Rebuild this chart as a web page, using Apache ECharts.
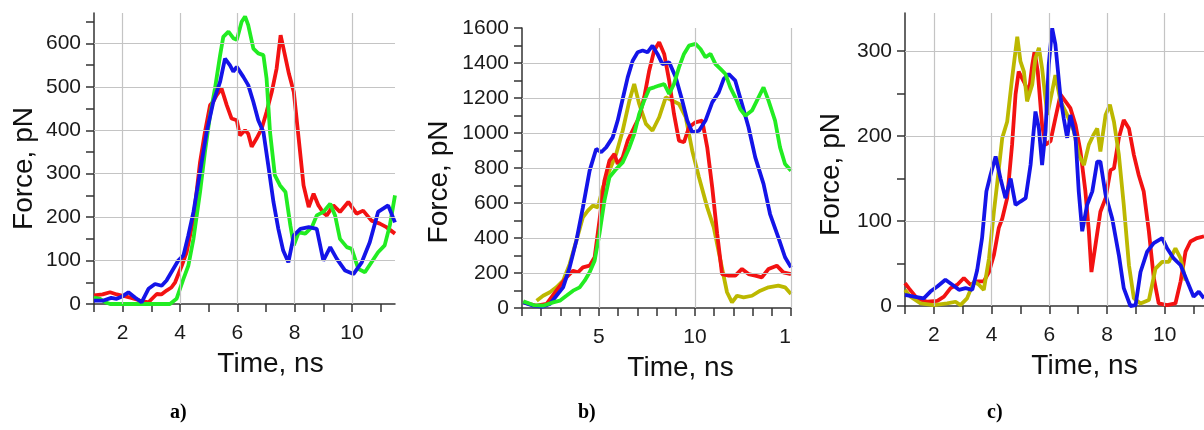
<!DOCTYPE html>
<html>
<head>
<meta charset="utf-8">
<script src="https://cdn.jsdelivr.net/npm/echarts@6/dist/echarts.min.js"></script>
<style>
html, body { margin: 0; padding: 0; background: #fff; }
#chart { width: 1204px; height: 430px; }
</style>
</head>
<body>
<div id="chart"></div>
<script>
// panel a) [time ns, force pN]
var aRed = [[1.0,20],[1.3,22],[1.56,27],[1.8,22],[2.0,19],[2.3,14],[2.6,8],[2.9,4],[3.19,23],[3.35,22],[3.53,31],[3.7,38],[3.83,50],[4.06,88],[4.23,119],[4.47,196],[4.7,327],[4.87,396],[5.05,458],[5.15,465],[5.28,481],[5.45,496],[5.63,458],[5.8,427],[5.98,423],[6.09,388],[6.27,400],[6.38,392],[6.5,362],[6.67,381],[6.85,404],[7.02,442],[7.2,488],[7.37,542],[7.51,619],[7.66,573],[7.8,530],[7.97,488],[8.14,381],[8.31,273],[8.49,223],[8.66,254],[8.83,227],[9.0,210],[9.12,204],[9.35,227],[9.58,212],[9.87,235],[10.16,208],[10.39,215],[10.68,192],[10.97,185],[11.2,177],[11.5,162]];
var aBlue = [[1.0,8],[1.33,8],[1.6,14],[1.79,12],[2.0,18],[2.2,27],[2.43,15],[2.66,4],[2.9,35],[3.13,46],[3.36,42],[3.53,54],[3.77,81],[3.94,100],[4.12,112],[4.29,158],[4.47,212],[4.7,304],[4.93,396],[5.16,465],[5.4,512],[5.57,565],[5.74,550],[5.86,535],[5.98,546],[6.21,523],[6.38,504],[6.56,465],[6.73,423],[6.91,396],[7.08,319],[7.26,235],[7.43,173],[7.6,123],[7.78,96],[7.97,158],[8.2,173],[8.49,177],[8.77,173],[9.0,100],[9.24,131],[9.47,104],[9.76,77],[10.05,69],[10.34,96],[10.62,142],[10.91,212],[11.26,227],[11.5,188]];
var aGreen = [[1.0,15],[1.21,12],[1.4,4],[1.56,0],[3.65,0],[3.88,12],[4.12,58],[4.29,88],[4.47,150],[4.7,258],[4.87,350],[5.05,435],[5.22,496],[5.4,573],[5.51,615],[5.69,627],[5.86,612],[5.98,608],[6.15,650],[6.27,662],[6.38,642],[6.56,588],[6.73,577],[6.91,573],[7.02,519],[7.14,396],[7.31,296],[7.49,273],[7.68,258],[7.85,181],[7.97,135],[8.14,165],[8.37,162],[8.6,177],[8.77,204],[9.0,212],[9.24,231],[9.41,204],[9.58,150],[9.82,131],[9.99,127],[10.22,81],[10.45,73],[10.68,96],[10.91,119],[11.14,135],[11.32,181],[11.5,250]];

// panel b)
var bRed = [[1.07,32],[1.76,13],[2.28,23],[2.79,99],[3.31,175],[3.66,213],[3.91,204],[4.17,232],[4.52,242],[4.78,290],[5.03,499],[5.29,728],[5.55,842],[5.81,880],[5.98,823],[6.24,861],[6.5,956],[6.84,1033],[7.1,1090],[7.36,1204],[7.62,1356],[7.88,1471],[8.14,1518],[8.4,1452],[8.66,1299],[8.91,1109],[9.17,956],[9.43,947],[9.69,1033],[10.03,1061],[10.38,1071],[10.64,918],[10.9,690],[11.16,423],[11.41,194],[11.76,185],[12.1,185],[12.45,223],[12.79,194],[13.14,185],[13.48,175],[13.83,223],[14.26,242],[14.6,204],[15.0,194]];
var bOlive = [[1.76,42],[2.1,70],[2.45,90],[2.79,118],[3.14,156],[3.48,251],[3.83,385],[4.17,518],[4.43,556],[4.69,585],[4.95,575],[5.21,690],[5.55,785],[5.9,880],[6.24,1013],[6.59,1185],[6.84,1280],[7.1,1166],[7.45,1052],[7.79,1013],[8.14,1090],[8.48,1204],[8.83,1185],[9.17,1166],[9.52,1090],[9.86,899],[10.21,747],[10.64,575],[10.98,461],[11.33,270],[11.67,90],[11.93,32],[12.19,70],[12.53,61],[12.97,70],[13.4,99],[13.83,118],[14.34,128],[14.69,118],[15.0,80]];
var bBlue = [[1.07,32],[1.59,13],[2.1,8],[2.45,23],[2.79,70],[3.14,118],[3.48,232],[3.83,385],[4.17,575],[4.52,785],[4.86,909],[5.12,890],[5.38,918],[5.72,975],[5.98,1071],[6.24,1194],[6.5,1318],[6.76,1413],[7.02,1461],[7.28,1471],[7.53,1461],[7.79,1499],[8.05,1452],[8.31,1394],[8.66,1404],[9.0,1318],[9.34,1185],[9.6,1071],[9.86,1004],[10.21,1013],[10.55,1071],[10.9,1175],[11.24,1232],[11.5,1309],[11.76,1337],[12.1,1299],[12.45,1166],[12.79,1033],[13.14,861],[13.57,709],[13.91,537],[14.34,404],[14.69,290],[15.0,232]];
var bGreen = [[1.07,38],[1.59,17],[2.1,13],[2.62,32],[2.97,42],[3.31,70],[3.66,99],[4.0,118],[4.26,156],[4.52,204],[4.78,270],[5.03,423],[5.29,613],[5.55,747],[5.9,794],[6.24,832],[6.59,918],[6.84,994],[7.1,1109],[7.36,1185],[7.62,1252],[7.88,1261],[8.14,1271],[8.4,1280],[8.66,1223],[8.91,1280],[9.17,1375],[9.43,1452],[9.69,1499],[10.03,1509],[10.29,1480],[10.55,1433],[10.81,1452],[11.07,1394],[11.33,1366],[11.59,1337],[11.84,1261],[12.1,1204],[12.36,1137],[12.62,1099],[12.97,1128],[13.31,1204],[13.57,1261],[13.83,1185],[14.17,1071],[14.43,918],[14.69,823],[15.0,785]];

// panel c)
var cRed = [[1.0,27],[1.13,21],[1.42,9],[1.77,5],[2.12,6],[2.35,11],[2.58,21],[2.81,25],[3.04,33],[3.27,25],[3.5,29],[3.73,29],[3.91,40],[4.08,60],[4.25,92],[4.37,103],[4.54,127],[4.71,190],[4.83,249],[4.94,276],[5.12,264],[5.29,251],[5.41,284],[5.49,300],[5.6,276],[5.75,213],[5.87,190],[6.04,194],[6.21,221],[6.39,249],[6.56,241],[6.73,233],[6.91,213],[7.08,182],[7.25,135],[7.37,88],[7.46,40],[7.6,72],[7.77,111],[7.95,127],[8.12,160],[8.24,162],[8.41,198],[8.58,219],[8.76,209],[8.93,178],[9.1,154],[9.27,135],[9.45,88],[9.62,33],[9.79,3],[10.08,1],[10.37,3],[10.55,29],[10.72,64],[10.89,76],[11.12,80],[11.36,82]];
var cOlive = [[1.0,19],[1.19,11],[1.54,3],[2.0,1],[2.46,3],[2.75,5],[2.92,1],[3.15,9],[3.39,29],[3.56,25],[3.73,19],[3.91,56],[4.08,111],[4.19,143],[4.37,198],[4.54,217],[4.71,268],[4.89,317],[5.0,288],[5.12,276],[5.23,241],[5.41,261],[5.52,292],[5.64,304],[5.75,280],[5.93,225],[6.1,253],[6.21,272],[6.39,241],[6.62,225],[6.85,206],[7.02,178],[7.2,166],[7.37,190],[7.54,202],[7.66,209],[7.77,182],[7.95,225],[8.1,237],[8.24,217],[8.41,178],[8.58,119],[8.76,48],[8.93,9],[9.16,3],[9.45,7],[9.68,44],[9.91,52],[10.14,52],[10.37,68],[10.55,56],[10.72,30]];
var cBlue = [[1.0,13],[1.31,11],[1.65,9],[1.88,17],[2.12,23],[2.4,31],[2.64,25],[2.87,19],[3.1,21],[3.33,19],[3.5,42],[3.67,80],[3.82,135],[3.96,154],[4.14,176],[4.31,150],[4.48,127],[4.66,150],[4.83,119],[5.0,123],[5.18,127],[5.35,166],[5.52,229],[5.64,209],[5.75,166],[5.87,206],[5.98,284],[6.1,327],[6.21,308],[6.39,245],[6.5,221],[6.62,198],[6.73,225],[6.91,198],[7.02,135],[7.14,88],[7.31,119],[7.49,135],[7.66,170],[7.77,170],[7.95,131],[8.18,103],[8.41,60],[8.58,21],[8.81,0],[8.99,1],[9.16,40],[9.39,64],[9.62,74],[9.91,80],[10.08,68],[10.31,56],[10.55,48],[10.78,29],[11.0,11],[11.18,17],[11.36,9]];

// ticks, labels and grid lines
var aTicksX = [1,2,3,4,5,6,7,8,9,10,11];
var aLabelsX = [2,4,6,8,10];
var aTicksY = [0,50,100,150,200,250,300,350,400,450,500,550,600,650];
var aLabelsY = [0,100,200,300,400,500,600];
var bTicksX = [1,2,3,4,5,6,7,8,9,10,11,12,13,14,15];
var bLabelsX = [5,10,15];
var bTicksY = [0,100,200,300,400,500,600,700,800,900,1000,1100,1200,1300,1400,1500,1600];
var bLabelsY = [0,200,400,600,800,1000,1200,1400,1600];
var cTicksX = [1,2,3,4,5,6,7,8,9,10,11];
var cLabelsX = [2,4,6,8,10];
var cTicksY = [0,50,100,150,200,250,300];
var cLabelsY = [0,100,200,300];

var RED = '#f31212', BLUE = '#1414e8', GREEN = '#22ec22', OLIVE = '#bcb800';
var FONT = "'Liberation Sans', Arial, sans-serif";

var grids = [
    {left: 94, top: 13, width: 301, height: 291},
    {left: 522, top: 28, width: 269, height: 280},
    {left: 905, top: 13, width: 299, height: 293}
];

var makeX = function(idx, max, ticks, labels, padLeft) {
    return {
        gridIndex: idx, type: 'value', min: 1, max: max, interval: 1,
        axisLine: {lineStyle: {color: '#333', width: 1.5}},
        axisTick: {length: 8, customValues: ticks, lineStyle: {color: '#333', width: 1.5}},
        axisLabel: {margin: 19, fontSize: 21, color: '#1a1a1a', fontFamily: FONT, customValues: labels,
            formatter: function(v) { return labels.indexOf(v) >= 0 ? String(v) : ''; }},
        splitLine: {show: false},
        name: 'Time, ns', nameLocation: 'middle', nameGap: 46,
        nameTextStyle: {fontSize: 28, color: '#111', fontFamily: FONT, padding: [0, 0, 0, padLeft]}
    };
};

var makeY = function(idx, max, step, ticks, labels, gap, padRight) {
    return {
        gridIndex: idx, type: 'value', min: 0, max: max, interval: step,
        axisLine: {show: true, lineStyle: {color: '#333', width: 1.5}},
        axisTick: {show: true, length: 8, customValues: ticks, lineStyle: {color: '#333', width: 1.5}},
        axisLabel: {margin: 13, fontSize: 21, color: '#1a1a1a', fontFamily: FONT, customValues: labels,
            formatter: function(v) { return labels.indexOf(v) >= 0 ? String(v) : ''; }},
        splitLine: {show: false},
        name: 'Force, pN', nameLocation: 'middle', nameGap: gap,
        nameTextStyle: {fontSize: 28, color: '#111', fontFamily: FONT, padding: [0, padRight, 0, 0]}
    };
};

// grey grid lines drawn as mark lines
var gridSeries = function(idx, xs, ys) {
    var d = [];
    xs.forEach(function(v) { d.push({xAxis: v}); });
    ys.forEach(function(v) { d.push({yAxis: v}); });
    return {
        type: 'line', xAxisIndex: idx, yAxisIndex: idx, data: [], z: 1, silent: true,
        markLine: {silent: true, symbol: 'none', animation: false, label: {show: false},
            lineStyle: {color: '#c4c4c4', width: 1.2, type: 'solid'}, data: d}
    };
};

var lineSeries = function(idx, data, color) {
    return {
        type: 'line', xAxisIndex: idx, yAxisIndex: idx, data: data, z: 3,
        showSymbol: false, symbol: 'none', lineStyle: {color: color, width: 3.8},
        itemStyle: {color: color}, clip: true
    };
};

var option = {
    animation: false,
    grid: grids,
    xAxis: [
        makeX(0, 11.5, aTicksX, aLabelsX, 52),
        makeX(1, 15, bTicksX, bLabelsX, 48),
        makeX(2, 11.36, cTicksX, cLabelsX, 60)
    ],
    yAxis: [
        makeY(0, 670, 50, aTicksY, aLabelsY, 56, 20),
        makeY(1, 1600, 100, bTicksY, bLabelsY, 69, 28),
        makeY(2, 345, 50, cTicksY, cLabelsY, 60, 30)
    ],
    series: [
        gridSeries(0, [2,4,6,8,10], [100,200,300,400,500,600]),
        gridSeries(1, [5,10,15], [200,400,600,800,1000,1200,1400]),
        gridSeries(2, [2,4,6,8,10], [100,200,300]),
        lineSeries(0, aRed, RED),
        lineSeries(0, aGreen, GREEN),
        lineSeries(0, aBlue, BLUE),
        lineSeries(1, bOlive, OLIVE),
        lineSeries(1, bRed, RED),
        lineSeries(1, bBlue, BLUE),
        lineSeries(1, bGreen, GREEN),
        lineSeries(2, cRed, RED),
        lineSeries(2, cOlive, OLIVE),
        lineSeries(2, cBlue, BLUE)
    ],
    graphic: [
        // the source figure is cropped just right of panel b
        {type: 'rect', z: 100, shape: {x: 792, y: 316, width: 14, height: 32}, style: {fill: '#fff'}},
        {type: 'text', z: 100, left: 170, top: 403, style: {text: 'a)', font: "bold 20px 'Liberation Serif', 'Times New Roman', serif", fill: '#000'}},
        {type: 'text', z: 100, left: 578, top: 403, style: {text: 'b)', font: "bold 20px 'Liberation Serif', 'Times New Roman', serif", fill: '#000'}},
        {type: 'text', z: 100, left: 987, top: 403, style: {text: 'c)', font: "bold 20px 'Liberation Serif', 'Times New Roman', serif", fill: '#000'}}
    ]
};

var chart = echarts.init(document.getElementById('chart'));
chart.setOption(option);
</script>
</body>
</html>
